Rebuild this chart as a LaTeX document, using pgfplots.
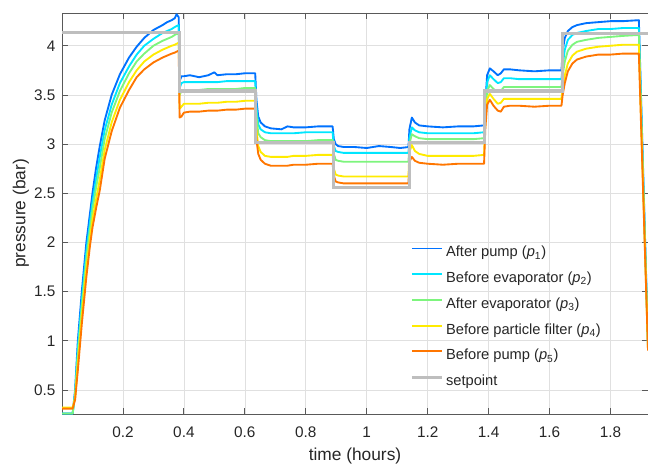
\documentclass[border=0pt]{standalone}
\usepackage{fontspec}
\setmainfont{Liberation Sans}
\usepackage{pgfplots}
\pgfplotsset{compat=1.18}
\usepackage{pgfplotstable}
\usetikzlibrary{calc}
\definecolor{cA}{RGB}{0,114,255}
\definecolor{cB}{RGB}{0,230,255}
\definecolor{cC}{RGB}{125,245,125}
\definecolor{cD}{RGB}{255,235,0}
\definecolor{cE}{RGB}{255,118,0}
\definecolor{cS}{RGB}{190,190,190}
\pgfplotstableread{
t p1 p2 p3 p4 p5
0.000 0.26 0.26 0.26 0.32 0.31
0.035 0.26 0.26 0.26 0.32 0.31
0.043 0.50 0.47 0.45 0.42 0.40
0.052 1.00 0.92 0.85 0.77 0.70
0.065 1.50 1.41 1.34 1.25 1.17
0.080 2.00 1.91 1.83 1.73 1.65
0.092 2.30 2.21 2.14 2.05 1.97
0.100 2.50 2.41 2.33 2.23 2.15
0.112 2.76 2.65 2.56 2.44 2.35
0.124 2.98 2.87 2.76 2.64 2.53
0.140 3.24 3.14 3.05 2.94 2.85
0.163 3.50 3.40 3.32 3.22 3.13
0.190 3.71 3.62 3.54 3.45 3.37
0.220 3.88 3.79 3.72 3.63 3.55
0.245 3.99 3.91 3.84 3.75 3.68
0.270 4.08 4.00 3.92 3.84 3.76
0.300 4.16 4.07 4.00 3.91 3.83
0.330 4.21 4.13 4.05 3.96 3.88
0.345 4.24 4.15 4.07 3.98 3.90
0.360 4.26 4.17 4.09 4.00 3.92
0.370 4.28 4.19 4.11 4.01 3.93
0.376 4.32 4.20 4.12 4.02 3.94
0.383 4.29 4.21 4.12 4.03 3.95
0.386 3.64 3.57 3.50 3.36 3.27
0.392 3.69 3.62 3.54 3.38 3.28
0.400 3.69 3.63 3.55 3.41 3.32
0.420 3.70 3.63 3.55 3.41 3.33
0.450 3.68 3.63 3.55 3.41 3.33
0.480 3.70 3.63 3.56 3.42 3.34
0.500 3.73 3.63 3.56 3.42 3.34
0.510 3.70 3.63 3.56 3.42 3.34
0.540 3.71 3.64 3.56 3.43 3.35
0.570 3.71 3.64 3.56 3.43 3.35
0.600 3.72 3.64 3.57 3.44 3.36
0.634 3.72 3.64 3.57 3.44 3.36
0.638 3.45 3.38 3.30 3.15 3.05
0.644 3.28 3.20 3.11 2.98 2.90
0.652 3.22 3.15 3.07 2.92 2.84
0.666 3.18 3.12 3.04 2.88 2.80
0.685 3.16 3.11 3.03 2.87 2.78
0.720 3.15 3.11 3.03 2.87 2.78
0.740 3.18 3.11 3.03 2.87 2.78
0.760 3.17 3.11 3.03 2.88 2.79
0.800 3.17 3.12 3.03 2.88 2.79
0.840 3.18 3.12 3.04 2.89 2.80
0.888 3.18 3.12 3.04 2.89 2.80
0.892 3.05 2.98 2.90 2.75 2.68
0.898 3.00 2.93 2.84 2.69 2.62
0.906 2.98 2.92 2.83 2.68 2.61
0.925 2.97 2.91 2.82 2.67 2.60
0.960 2.97 2.91 2.82 2.67 2.60
1.000 2.96 2.91 2.82 2.67 2.60
1.040 2.98 2.91 2.82 2.67 2.60
1.080 2.97 2.91 2.82 2.67 2.60
1.110 2.96 2.91 2.82 2.67 2.60
1.137 2.97 2.91 2.82 2.67 2.60
1.140 3.15 3.06 3.00 2.92 2.82
1.148 3.27 3.17 3.10 2.99 2.87
1.158 3.22 3.14 3.08 2.93 2.83
1.172 3.19 3.12 3.06 2.90 2.81
1.200 3.18 3.11 3.05 2.88 2.80
1.250 3.17 3.11 3.05 2.88 2.79
1.300 3.18 3.11 3.05 2.88 2.80
1.350 3.18 3.11 3.05 2.88 2.80
1.385 3.19 3.12 3.06 2.89 2.80
1.389 3.40 3.35 3.30 3.22 3.15
1.395 3.70 3.63 3.54 3.46 3.40
1.404 3.77 3.70 3.60 3.51 3.45
1.416 3.74 3.66 3.56 3.46 3.39
1.430 3.70 3.62 3.53 3.41 3.34
1.440 3.72 3.63 3.54 3.42 3.33
1.450 3.76 3.67 3.58 3.46 3.38
1.470 3.76 3.67 3.58 3.46 3.39
1.500 3.75 3.66 3.58 3.46 3.39
1.550 3.74 3.66 3.58 3.46 3.38
1.600 3.75 3.66 3.58 3.46 3.39
1.639 3.75 3.66 3.58 3.46 3.39
1.643 3.95 3.80 3.70 3.58 3.50
1.650 4.08 3.96 3.84 3.70 3.62
1.660 4.15 4.06 3.95 3.82 3.74
1.675 4.19 4.11 4.01 3.90 3.82
1.690 4.21 4.13 4.04 3.94 3.86
1.720 4.23 4.15 4.06 3.97 3.89
1.760 4.24 4.17 4.08 3.99 3.91
1.800 4.25 4.17 4.09 4.00 3.91
1.840 4.25 4.18 4.10 4.01 3.92
1.893 4.26 4.18 4.11 4.01 3.92
1.923 0.98 0.95 0.93 0.91 0.90
}\pdata
\pgfplotstableread{
t s
0.000 4.13
0.385 4.13
0.385 3.54
0.636 3.54
0.636 3.02
0.890 3.02
0.890 2.56
1.139 2.56
1.139 3.02
1.387 3.02
1.387 3.54
1.641 3.54
1.641 4.12
1.923 4.12
}\sdata
\begin{document}
\begin{tikzpicture}
\begin{axis}[
  width=439.5pt, height=300.75pt, scale only axis,
  xmin=0, xmax=1.923, ymin=0.255, ymax=4.333,
  xtick={0.2,0.4,0.6,0.8,1,1.2,1.4,1.6,1.8},
  ytick={0.5,1,1.5,2,2.5,3,3.5,4},
  grid=major,
  major grid style={color=black!12, line width=0.5pt},
  axis line style={color=black!65, line width=0.6pt},
  tick style={color=black!65, line width=0.6pt},
  tick align=inside, major tick length=4.5pt,
  /pgf/number format/assume math mode=true,
  ticklabel style={font=\fontsize{11.5}{13}\selectfont, color=black!85},
  xticklabel style={yshift=-6pt},
  yticklabel style={xshift=-1.4pt},
  xlabel={time (hours)}, ylabel={pressure (bar)},
  label style={font=\fontsize{13}{15}\selectfont, color=black!85},
  xlabel style={at={(axis description cs:0.5,-0.106)}, anchor=center},
  ylabel style={at={(axis description cs:-0.07,0.5)}, anchor=center},
  legend cell align=left,
  legend image code/.code={\draw[#1] (0pt,3.6pt) -- (22.5pt,3.6pt);},
  legend style={draw=none, fill=none, inner sep=0pt, at={(0.594,0.419)}, anchor=north west,
    font=\fontsize{11}{13}\selectfont, text=black!85,
    nodes={inner sep=0pt, text height=8pt, text depth=2.5pt},
    row sep=8.8pt, column sep=2pt},
]
\addplot[cA, line width=1.4pt, line join=round] table[x=t,y=p1]{\pdata};
\addlegendentry{After pump (\textit{p}\textsubscript{1})}
\addplot[cB, line width=1.4pt, line join=round] table[x=t,y=p2]{\pdata};
\addlegendentry{Before evaporator (\textit{p}\textsubscript{2})}
\addplot[cC, line width=1.4pt, line join=round] table[x=t,y=p3]{\pdata};
\addlegendentry{After evaporator (\textit{p}\textsubscript{3})}
\addplot[cD, line width=1.4pt, line join=round] table[x=t,y=p4]{\pdata};
\addlegendentry{Before particle filter (\textit{p}\textsubscript{4})}
\addplot[cE, line width=1.4pt, line join=round] table[x=t,y=p5]{\pdata};
\addlegendentry{Before pump (\textit{p}\textsubscript{5})}
\addplot[cS, line width=2.3pt] table[x=t,y=s]{\sdata};
\addlegendentry{setpoint}
\end{axis}
\pgfresetboundingbox
\path[use as bounding box] ($(current axis.south west)+(-46.5pt,-37.5pt)$) rectangle ($(current axis.north east)+(0pt,9.75pt)$);
\end{tikzpicture}
\end{document}
